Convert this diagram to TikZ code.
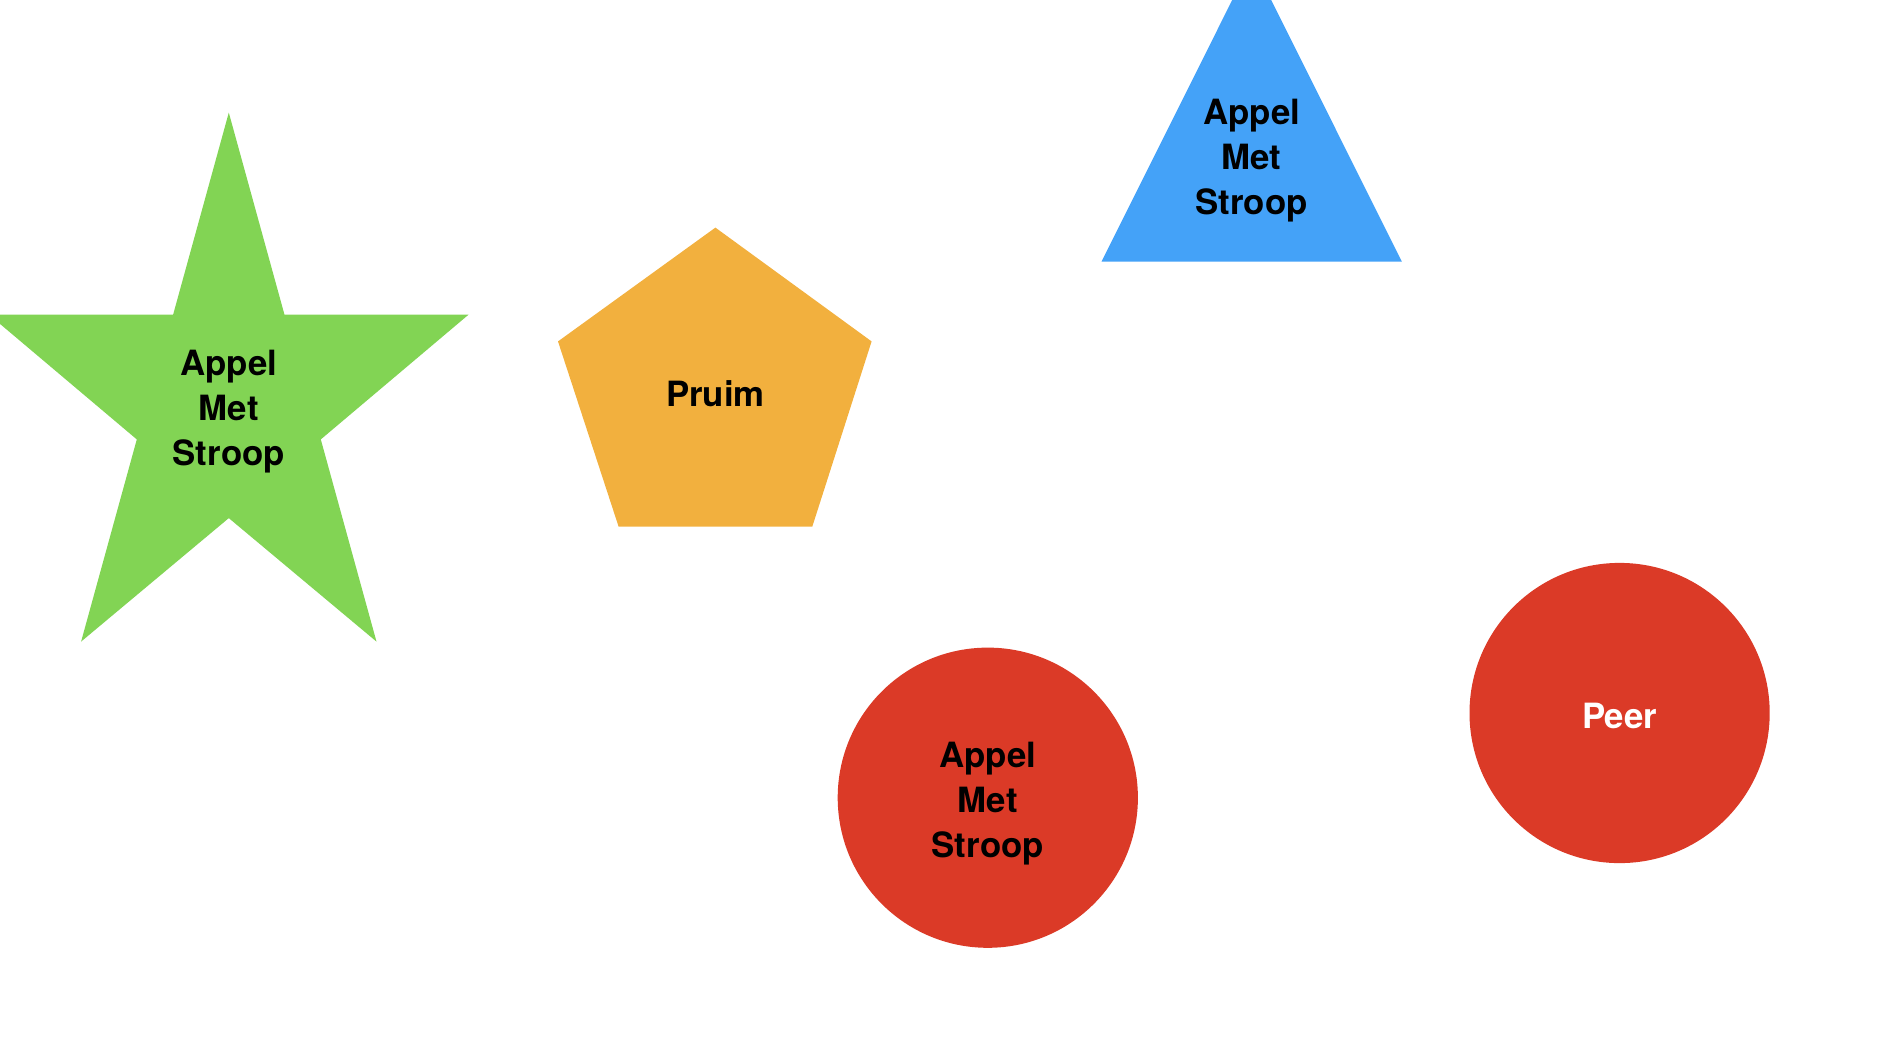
\documentclass[tikz,border=0pt]{standalone}
\usepackage{fontspec}
\setmainfont{TeX Gyre Heros}
\usepackage{tikz}
\usetikzlibrary{positioning}

\definecolor{starGreen}{RGB}{130,212,84}
\definecolor{pentOrange}{RGB}{242,176,62}
\definecolor{triBlue}{RGB}{68,162,248}
\definecolor{circRed}{RGB}{219,58,39}

\begin{document}
\begin{tikzpicture}[scale=0.1]
\tikzstyle{every node}+=[inner sep=0pt]
\tikzstyle{shapetext}=[align=center,font=\fontsize{9.9}{12.8}\selectfont\bfseries]
\clip (0,0) rectangle (189.8,-106.2);
\fill [starGreen] (22.88,-11.26) -- (28.45,-31.47) -- (46.85,-31.47) -- (32.08,-43.94) -- (37.65,-64.16) -- (22.88,-51.81) -- (8.11,-64.16) -- (13.68,-43.94) -- (-1.09,-31.47) -- (17.31,-31.47) -- cycle;
\draw (22.88,-41.17) node (starlbl) [shapetext] {Appel\\Met\\Stroop};
\fill [pentOrange] (71.54,-22.76) -- (87.16,-34.14) -- (81.23,-52.66) -- (61.86,-52.66) -- (55.80,-34.14) -- cycle;
\draw (71.54,-39.4) node (pentlbl) [shapetext] {Pruim};
\fill [triBlue] (125.17,3.9) -- (140.18,-26.15) -- (110.16,-26.15) -- cycle;
\draw (125.17,-16.1) node (trilbl) [shapetext] {Appel\\Met\\Stroop};
\fill [circRed] (98.78,-79.77) circle (15.01);
\draw (98.78,-80.4) node (circlbl) [shapetext] {Appel\\Met\\Stroop};
\fill [circRed] (161.96,-71.30) circle (15.01);
\draw (161.96,-71.55) node (peerlbl) [shapetext,white] {Peer};
\end{tikzpicture}
\end{document}
